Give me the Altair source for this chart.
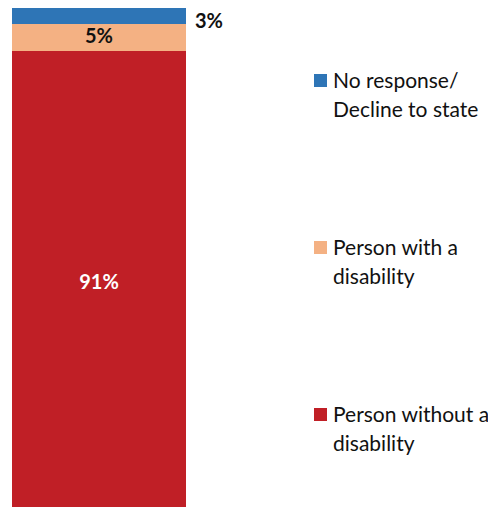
import altair as alt
import pandas as pd

# Data
categories = ["No response/|Decline to state", "Person with a|disability", "Person without a|disability"]
values = [3.2, 5.4, 91.4]
labels = ["3%", "5%", "91%"]
colors = ["#2e75b6", "#f4b183", "#c01f26"]

# stack from the bottom: last category at the bottom
rows = []
acc = 0.0
for cat, v, lab in reversed(list(zip(categories, values, labels))):
    rows.append({"grp": "All", "category": cat, "value": v, "label": lab,
                 "start": acc, "end": acc + v, "mid": acc + v / 2})
    acc += v
df = pd.DataFrame(rows)

FONT = "Lato"

x_enc = alt.X("grp:N", axis=None, scale=alt.Scale(paddingInner=0, paddingOuter=0.023))
y_scale = alt.Scale(domain=[0, 100], nice=False, zero=True)

base = alt.Chart(df)

bars = base.mark_bar().encode(
    x=x_enc,
    y=alt.Y("start:Q", axis=None, scale=y_scale),
    y2="end:Q",
    color=alt.Color(
        "category:N",
        scale=alt.Scale(domain=categories, range=colors),
        sort=categories,
        legend=alt.Legend(
            title=None, orient="none", legendX=302, legendY=62,
            symbolType="square", symbolSize=169, symbolStrokeWidth=0,
            labelFont=FONT, labelFontSize=21, labelColor="#111111",
            labelOffset=2, labelLimit=0, rowPadding=116,
            labelExpr="split(datum.label, '|')", labelBaseline="top",
        ),
    ),
)

lab_outside = base.transform_filter(alt.datum.label == "3%").mark_text(
    align="left", baseline="middle", dx=96, dy=6, font=FONT, fontSize=20,
    fontWeight="bold", color="#111111"
).encode(x=x_enc, y=alt.Y("mid:Q", scale=y_scale, axis=None), text="label:N")

lab_dark = base.transform_filter(alt.datum.label == "5%").mark_text(
    align="center", baseline="middle", font=FONT, fontSize=20,
    fontWeight="bold", color="#111111"
).encode(x=x_enc, y=alt.Y("mid:Q", scale=y_scale, axis=None), text="label:N")

lab_light = base.transform_filter(alt.datum.label == "91%").mark_text(
    align="center", baseline="middle", dy=4, font=FONT, fontSize=20,
    fontWeight="bold", color="white"
).encode(x=x_enc, y=alt.Y("mid:Q", scale=y_scale, axis=None), text="label:N")

chart = alt.layer(bars, lab_outside, lab_dark, lab_light).properties(
    width=182, height=499,
    autosize=alt.AutoSizeParams(type="none"),
    padding={"left": 0, "top": 0, "right": 298, "bottom": 0},
).configure(
    view=alt.ViewConfig(stroke=None),
    style={"guide-label": {"lineHeight": 29, "dy": -10}},
)

chart.save("out.html", embed_options={"renderer": "svg", "actions": False})
